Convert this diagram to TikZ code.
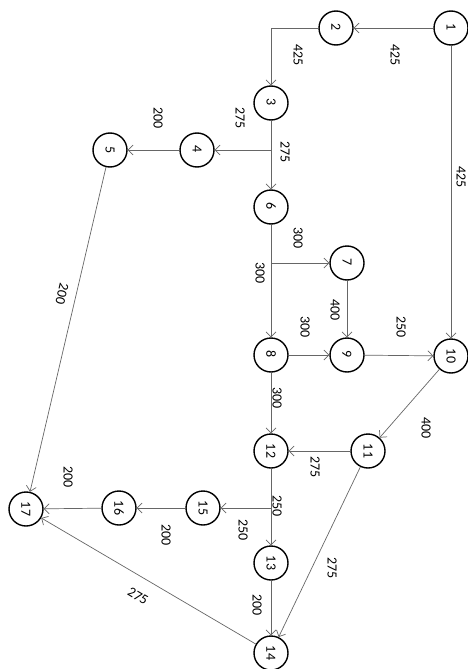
\documentclass[tikz,border=0pt]{standalone}
\usepackage{fontspec}
\setmainfont{Carlito}
\usetikzlibrary{arrows.meta}
\newcommand{\rt}[1]{\rotatebox[origin=c]{-90}{#1}}
\begin{document}
\begin{tikzpicture}[x=1pt,y=-1pt,
  vert/.style={circle,draw=black,line width=1.4pt,minimum size=34pt,inner sep=0pt,font=\fontsize{14}{14}\selectfont},
  edge/.style={draw=black!60,line width=0.7pt},
  arr/.style={edge,-{Straight Barb[length=5pt,width=10pt,line width=0.7pt]}},
  lbl/.style={font=\fontsize{14}{14}\selectfont,rotate=-90,inner sep=0pt}]
\useasboundingbox (0,0) rectangle (467,669);
\node[vert] (n1) at (451,28) {\rt{1}};
\node[vert] (n2) at (336,28) {\rt{2}};
\node[vert] (n3) at (271,103) {\rt{3}};
\node[vert] (n4) at (197,150) {\rt{4}};
\node[vert] (n5) at (110,150) {\rt{5}};
\node[vert] (n6) at (271,207) {\rt{6}};
\node[vert] (n7) at (347,263) {\rt{7}};
\node[vert] (n8) at (271,355) {\rt{8}};
\node[vert] (n9) at (347,355) {\rt{9}};
\node[vert] (n10) at (451,356) {\rt{10}};
\node[vert] (n11) at (368,451) {\rt{11}};
\node[vert] (n12) at (271,451) {\rt{12}};
\node[vert] (n13) at (271,563) {\rt{13}};
\node[vert] (n14) at (271,653) {\rt{14}};
\node[vert] (n15) at (203,508) {\rt{15}};
\node[vert] (n16) at (119,508) {\rt{16}};
\node[vert] (n17) at (26,509) {\rt{17}};
\coordinate (j34) at (271,150);
\coordinate (j67) at (271,263);
\coordinate (j1215) at (271,508);
% edges
\draw[arr] (n1) -- (n2);
\draw[arr] (n1) -- (n10);
\draw[arr] (n2.west) -| (n3.north);
\draw[edge] (n3) -- (j34);
\draw[arr] (j34) -- (n4);
\draw[arr] (j34) -- (n6);
\draw[arr] (n4) -- (n5);
\draw[arr] (n5) -- (n17);
\draw[edge] (n6) -- (j67);
\draw[arr] (j67) -- (n7);
\draw[arr] (j67) -- (n8);
\draw[arr] (n7) -- (n9);
\draw[arr] (n8) -- (n9);
\draw[arr] (n9) -- (n10);
\draw[arr] (n10) -- (n11);
\draw[arr] (n11) -- (n12);
\draw[arr] (n8) -- (n12);
\draw[edge] (n12) -- (j1215);
\draw[arr] (j1215) -- (n13);
\draw[arr] (j1215) -- (n15);
\draw[arr] (n15) -- (n16);
\draw[arr] (n16) -- (n17);
\draw[arr] (n13) -- (n14);
\draw[arr] (n11) -- (n14);
\draw[arr] (n14) -- (n17);
% labels
\node[lbl] (l12) at (395,55) {425};
\node[lbl] (l23) at (298,55) {425};
\node[lbl] (l110) at (461,177) {425};
\node[lbl] (l34) at (240,118) {275};
\node[lbl] (l36) at (285,152) {275};
\node[lbl] (l45) at (158,118) {200};
\node[lbl] (l67) at (298,238) {300};
\node[lbl] (l68) at (260,273) {300};
\node[lbl] (l79) at (335,310) {400};
\node[lbl] (l89) at (305,327) {300};
\node[lbl] (l910) at (401,327) {250};
\node[lbl] (l1011) at (426,428) {400};
\node[lbl] (l812) at (277,398) {300};
\node[lbl] (l1112) at (315,467) {275};
\node[lbl] (l1213) at (277,506) {250};
\node[lbl] (l1215) at (243,530) {250};
\node[lbl] (l1516) at (166,535) {200};
\node[lbl] (l1617) at (68,477) {200};
\node[lbl,rotate=-13] (l517) at (62,294) {200};
\node[lbl] (l1114) at (332,568) {275};
\node[lbl] (l1314) at (257,605) {200};
\node[lbl,rotate=59] (l1417) at (138,596) {275};
\end{tikzpicture}
\end{document}
